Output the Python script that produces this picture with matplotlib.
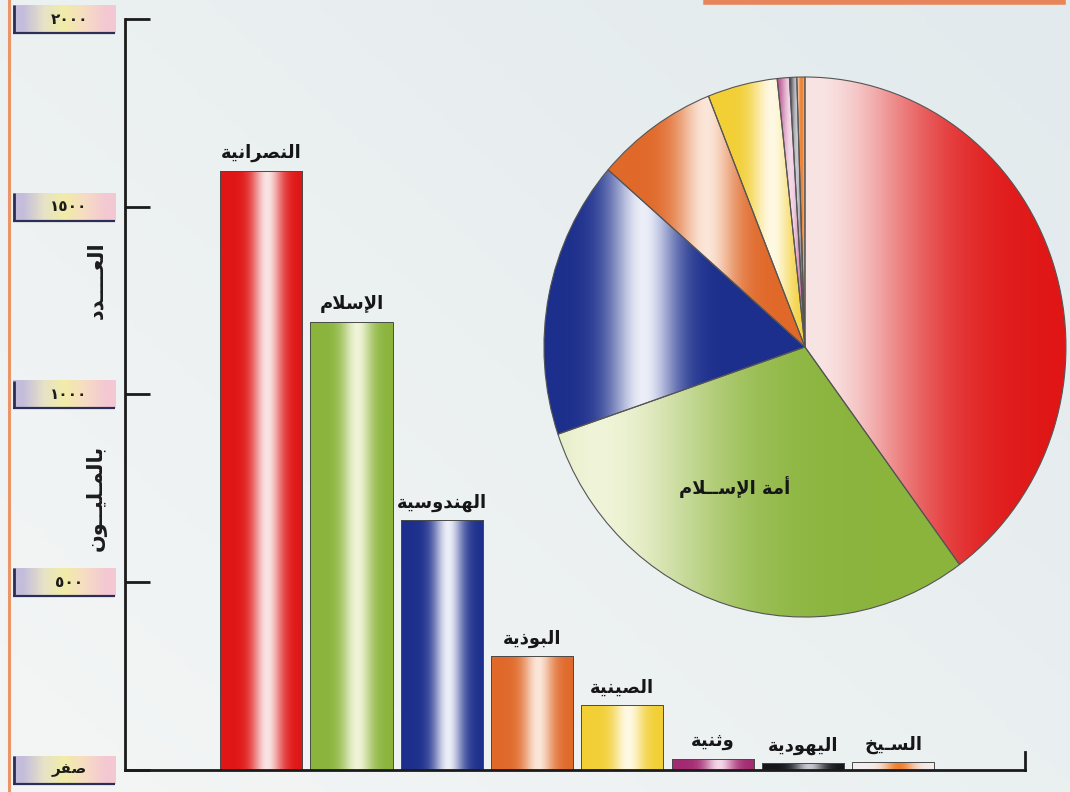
import numpy as np
import matplotlib.pyplot as plt
from matplotlib.colors import to_rgb

# followers of each religion, millions
religions = ['النصرانية', 'الإسلام', 'الهندوسية', 'البوذية', 'الصينية', 'وثنية', 'اليهودية', 'السـيخ']
followers = [1596, 1194, 665, 303, 173, 30, 18, 20]

yticks = [0, 500, 1000, 1500, 2000]
ytick_labels = ['صفر', '٥٠٠', '١٠٠٠', '١٥٠٠', '٢٠٠٠']
ylabel_words = ['العــــدد', 'بالمـليــون']
pie_label = 'أمة الإســلام'

colors = ['#e01515', '#8ab43c', '#1c2f8c', '#e0692a', '#f2cf35', '#a32a72', '#15151c', '#f4eeee']
shines = ['#f9e4e4', '#f0f4d8', '#eceef8', '#fbe6d8', '#fff9e4', '#f4d8e8', '#c8c8d0', '#f08030']
pie_shine_pos = [0.03, 0.1, 0.38, 0.5, 0.66, 0.5, 0.5, 0.5]
pie_shine_width = [0.42, 0.3, 0.13, 0.15, 0.2, 0.4, 0.4, 0.4]

# --- minimal arabic shaping: matplotlib draws glyphs unjoined and left-to-right ---
# isolated, final[, initial, medial]
FORMS = {
    'ا': ('\uFE8D', '\uFE8E'), 'أ': ('\uFE83', '\uFE84'), 'إ': ('\uFE87', '\uFE88'),
    'ب': ('\uFE8F', '\uFE90', '\uFE91', '\uFE92'), 'ة': ('\uFE93', '\uFE94'),
    'ث': ('\uFE99', '\uFE9A', '\uFE9B', '\uFE9C'), 'خ': ('\uFEA5', '\uFEA6', '\uFEA7', '\uFEA8'),
    'د': ('\uFEA9', '\uFEAA'), 'ذ': ('\uFEAB', '\uFEAC'), 'ر': ('\uFEAD', '\uFEAE'),
    'س': ('\uFEB1', '\uFEB2', '\uFEB3', '\uFEB4'), 'ص': ('\uFEB9', '\uFEBA', '\uFEBB', '\uFEBC'),
    'ع': ('\uFEC9', '\uFECA', '\uFECB', '\uFECC'), 'ف': ('\uFED1', '\uFED2', '\uFED3', '\uFED4'),
    'ق': ('\uFED5', '\uFED6', '\uFED7', '\uFED8'), 'ل': ('\uFEDD', '\uFEDE', '\uFEDF', '\uFEE0'),
    'م': ('\uFEE1', '\uFEE2', '\uFEE3', '\uFEE4'), 'ن': ('\uFEE5', '\uFEE6', '\uFEE7', '\uFEE8'),
    'ه': ('\uFEE9', '\uFEEA', '\uFEEB', '\uFEEC'), 'و': ('\uFEED', '\uFEEE'),
    'ي': ('\uFEF1', '\uFEF2', '\uFEF3', '\uFEF4'), 'ـ': ('ـ', 'ـ', 'ـ', 'ـ'),
}
LAM_ALEF = {'ا': ('\uFEFB', '\uFEFC'), 'أ': ('\uFEF7', '\uFEF8'), 'إ': ('\uFEF9', '\uFEFA')}


def shape(text):
    # digits (arabic-indic) keep their left-to-right order
    if not any(c in FORMS for c in text):
        return text
    tokens = []
    i = 0
    while i < len(text):
        c = text[i]
        if c == 'ل' and i + 1 < len(text) and text[i + 1] in LAM_ALEF:
            tokens.append(LAM_ALEF[text[i + 1]])
            i += 2
            continue
        tokens.append(FORMS.get(c, c))
        i += 1
    out = []
    for k, t in enumerate(tokens):
        if not isinstance(t, tuple):
            out.append(t)
            continue
        prev = tokens[k - 1] if k > 0 else None
        after = tokens[k + 1] if k + 1 < len(tokens) else None
        joined_before = isinstance(prev, tuple) and len(prev) == 4
        joined_after = len(t) == 4 and isinstance(after, tuple)
        if joined_before and joined_after:
            out.append(t[3])
        elif joined_before:
            out.append(t[1])
        elif joined_after:
            out.append(t[2])
        else:
            out.append(t[0])
    return ''.join(reversed(out))


def shade(ax, patch, base, shine, pos, width, extent):
    """Fill a patch with a horizontal metallic gradient."""
    t = np.linspace(0, 1, 256)
    w = np.exp(-((t - pos) / width) ** 2)
    rgb = np.outer(1 - w, to_rgb(base)) + np.outer(w, to_rgb(shine))
    img = ax.imshow(rgb[np.newaxis, :, :], extent=extent, aspect='auto', origin='lower',
                    interpolation='bilinear', zorder=patch.get_zorder() - 0.1)
    img.set_clip_path(patch)
    patch.set_facecolor('none')


plt.rcParams['font.family'] = ['DejaVu Sans']
fig = plt.figure(figsize=(10.7, 7.92), dpi=100)

# page background
bg = fig.add_axes([0, 0, 1, 1])
gx, gy = np.meshgrid(np.linspace(0, 1, 200), np.linspace(0, 1, 200))
g = np.clip(0.55 * gx + 0.45 * (1 - gy), 0, 1)[..., None]
bg.imshow(np.array(to_rgb('#f4f6f5')) * (1 - g) + np.array(to_rgb('#e2eaed')) * g,
          extent=(0, 1, 0, 1), aspect='auto', origin='upper')
bg.axvline(9 / 1070, color='#ea9468', lw=2.2)
bg.axhline(1 - 2 / 792, xmin=0.66, xmax=0.993, color='#e8845a', lw=4)
bg.set_xlim(0, 1)
bg.set_ylim(0, 1)
bg.axis('off')

# bar chart
ax = fig.add_axes([0.1168, 0.0278, 0.8411, 0.9482])
ax.set_facecolor('none')
x = np.arange(len(religions))
bars = ax.bar(x, followers, width=0.91, edgecolor='#4a4a4a', linewidth=0.7, zorder=2)
for b, c, s in zip(bars, colors, shines):
    shade(ax, b, c, s, 0.57, 0.18,
          (b.get_x(), b.get_x() + b.get_width(), 0, b.get_height()))
for xi, v, name in zip(x, followers, religions):
    ax.text(xi, v + 22, shape(name), ha='center', va='bottom', fontsize=13,
            fontweight='bold', color='#161616', zorder=3)

ax.set_xlim(-1.51, 8.46)
ax.set_ylim(0, 2000)
ax.spines['top'].set_visible(False)
for side in ['left', 'bottom', 'right']:
    ax.spines[side].set_color('#1b1b1b')
    ax.spines[side].set_linewidth(2)
ax.spines['left'].set_bounds(0, 2000)
ax.spines['right'].set_bounds(0, 48)
ax.set_xticks([])
ax.set_yticks(yticks)
ax.tick_params(axis='y', direction='in', length=18, width=2, color='#1b1b1b',
               labelleft=False, right=False)

# tick label plates on the left
lab = fig.add_axes([13 / 1070, 0.0278, 102 / 1070, 0.9482])
lab.set_xlim(0, 1)
lab.set_ylim(0, 2000)
lab.axis('off')
plate = np.array([to_rgb(c) for c in ['#c4bddb', '#e6e2c8', '#f2eca8', '#f6dcc4', '#f4c8d2']])
for v, txt in zip(yticks, ytick_labels):
    lab.imshow(plate[np.newaxis, :, :], extent=(0, 1, v - 37, v + 37), aspect='auto',
               interpolation='bilinear', clip_on=False, zorder=1)
    lab.vlines(0.01, v - 37, v + 37, color='#2c2f55', lw=2, clip_on=False, zorder=2)
    lab.hlines(v - 37, 0, 1, color='#2c2f55', lw=1.6, clip_on=False, zorder=2)
    lab.text(0.55, v, shape(txt), ha='center', va='center', fontsize=11,
             fontweight='bold', color='#1c1c1c', clip_on=False, zorder=3)
lab.set_xlim(0, 1)
lab.set_ylim(0, 2000)
lab.text(0.82, 1305, shape(ylabel_words[0]), rotation=90, ha='center', va='center',
         fontsize=15, fontweight='bold', color='#1c1c1c')
lab.text(0.82, 725, shape(ylabel_words[1]), rotation=90, ha='center', va='center',
         fontsize=15, fontweight='bold', color='#1c1c1c')

# share pie
pax = fig.add_axes([0.5035, 0.2141, 0.4976, 0.6955])
wedges, _ = pax.pie(followers, colors=colors, startangle=90, counterclock=False,
                    wedgeprops=dict(edgecolor='#555555', linewidth=0.8))
for w, c, s, p, wd in zip(wedges, colors, shines, pie_shine_pos, pie_shine_width):
    e = w.get_path().get_extents()
    shade(pax, w, c, s, p, wd, (e.x0, e.x1, e.y0, e.y1))
pax.text(-0.27, -0.52, shape(pie_label), ha='center', va='center', fontsize=13,
         fontweight='bold', color='#161616')
pax.set_aspect('auto')
pax.set_xlim(-1.02, 1.02)
pax.set_ylim(-1.02, 1.02)

fig.savefig('out.png', dpi=100)
